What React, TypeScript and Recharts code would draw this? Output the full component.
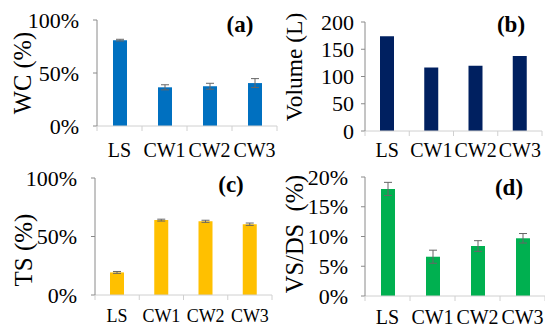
import React from 'react';
import { BarChart, Bar, XAxis, YAxis, ErrorBar } from 'recharts';

const categories = ['LS', 'CW1', 'CW2', 'CW3'];
const wcValues = [81, 36.5, 37.5, 40.5];
const wcErrors = [0.8, 2.4, 2.8, 4.2];
const volumeValues = [174, 116.5, 119.5, 137.5];
const tsValues = [19.3, 64, 63, 60.5];
const tsErrors = [0.8, 0.8, 0.9, 1.0];
const vsdsValues = [18.0, 6.6, 8.4, 9.7];
const vsdsErrors = [1.1, 1.1, 0.9, 0.8];

const pctTicks100 = [0, 50, 100];
const volumeTicks = [0, 50, 100, 150, 200];
const pctTicks20 = [0, 5, 10, 15, 20];

const build = (vals: number[], errs?: number[]) =>
  categories.map((c, i) => ({ cat: c, v: vals[i], err: errs ? errs[i] : 0 }));

const wcData = build(wcValues, wcErrors);
const volData = build(volumeValues);
const tsData = build(tsValues, tsErrors);
const vsdsData = build(vsdsValues, vsdsErrors);

const FONT = '"Liberation Serif", "Times New Roman", serif';
const W = 545;
const H = 331;
const YW = 60;
const XH = 30;

const makeXTick = (fontSize: number, baseline: number, band: number) => (props: any) => {
  const { x, y, payload, index } = props;
  return (
    <g>
      {index === 0 && (
        <line x1={x - band / 2} x2={x - band / 2} y1={y} y2={y + 5} stroke="#d0d0d0" />
      )}
      <line x1={x + band / 2} x2={x + band / 2} y1={y} y2={y + 5} stroke="#d0d0d0" />
      <text x={x} y={y + baseline} textAnchor="middle" fontSize={fontSize} fontFamily={FONT} fill="#000">
        {payload.value}
      </text>
    </g>
  );
};

const makeYTick = (fmt: (v: number) => string, fontSize: number) => (props: any) => {
  const { x, y, payload } = props;
  return (
    <text x={x} y={y} textAnchor="end" dominantBaseline="central" fontSize={fontSize} fontFamily={FONT} fill="#000">
      {fmt(payload.value)}
    </text>
  );
};

type PanelProps = {
  data: any[];
  color: string;
  plot: { top: number; left: number; right: number; bottom: number };
  ticks: number[];
  fmt: (v: number) => string;
  yTickMargin: number;
  yFont: number;
  catFont: number;
  catBaseline: number;
  hasErr: boolean;
};

function Panel(p: PanelProps) {
  const band = (p.plot.right - p.plot.left) / categories.length;
  const max = p.ticks[p.ticks.length - 1];
  const margin = {
    top: p.plot.top,
    left: p.plot.left - YW,
    right: W - p.plot.right,
    bottom: H - p.plot.bottom - XH,
  };
  return (
    <div style={{ position: 'absolute', left: 0, top: 0 }}>
      <BarChart width={W} height={H} data={p.data} margin={margin} barSize={14}>
        <XAxis
          dataKey="cat"
          height={XH}
          tickLine={false}
          tickSize={0}
          tickMargin={0}
          interval={0}
          axisLine={{ stroke: '#d0d0d0' }}
          tick={makeXTick(p.catFont, p.catBaseline, band)}
        />
        <YAxis
          width={YW}
          domain={[0, max]}
          ticks={p.ticks}
          interval={0}
          tickSize={4}
          tickMargin={p.yTickMargin}
          axisLine={{ stroke: '#8a8a8a' }}
          tickLine={{ stroke: '#8a8a8a' }}
          tick={makeYTick(p.fmt, p.yFont)}
        />
        <Bar dataKey="v" fill={p.color} isAnimationActive={false}>
          {p.hasErr && <ErrorBar dataKey="err" width={4} stroke="#666" strokeWidth={1} />}
        </Bar>
      </BarChart>
    </div>
  );
}

const pct = (v: number) => `${v}%`;
const num = (v: number) => `${v}`;

function Titles() {
  const rot = (x: number, y: number, t: string, fs: number) => (
    <text
      transform={`translate(${x},${y}) rotate(-90)`}
      textAnchor="middle"
      dominantBaseline="central"
      fontSize={fs}
      fontFamily={FONT}
      fill="#000"
    >
      {t}
    </text>
  );
  const letter = (x: number, y: number, t: string) => (
    <text x={x} y={y} textAnchor="middle" dominantBaseline="central" fontSize={23} fontWeight="bold" fontFamily={FONT} fill="#000">
      {t}
    </text>
  );
  return (
    <svg width={W} height={H} style={{ position: 'absolute', left: 0, top: 0 }}>
      {rot(22, 73, 'WC (%)', 24.5)}
      {rot(294, 67, 'Volume (L)', 23.5)}
      {rot(23, 250, 'TS (%)', 25)}
      {rot(294, 234, 'VS/DS\u00a0 (%)', 24.5)}
      {letter(240, 24, '(a)')}
      {letter(511, 24, '(b)')}
      {letter(231, 184, '(c)')}
      {letter(509, 187, '(d)')}
    </svg>
  );
}

export default function App() {
  return (
    <div style={{ position: 'absolute', left: 0, top: 0, width: W, height: H, background: '#fff' }}>
      <Panel
        data={wcData}
        color="#0070C0"
        plot={{ top: 20, left: 97, right: 277, bottom: 126 }}
        ticks={pctTicks100}
        fmt={pct}
        yTickMargin={14}
        yFont={22}
        catFont={20}
        catBaseline={31}
        hasErr={true}
      />
      <Panel
        data={volData}
        color="#002060"
        plot={{ top: 22, left: 365, right: 542, bottom: 131 }}
        ticks={volumeTicks}
        fmt={num}
        yTickMargin={7}
        yFont={22}
        catFont={20}
        catBaseline={26}
        hasErr={false}
      />
      <Panel
        data={tsData}
        color="#FFC000"
        plot={{ top: 178, left: 95, right: 272, bottom: 295 }}
        ticks={pctTicks100}
        fmt={pct}
        yTickMargin={14}
        yFont={22}
        catFont={18}
        catBaseline={27}
        hasErr={true}
      />
      <Panel
        data={vsdsData}
        color="#00B050"
        plot={{ top: 177, left: 365, right: 545, bottom: 296 }}
        ticks={pctTicks20}
        fmt={pct}
        yTickMargin={13}
        yFont={22}
        catFont={20}
        catBaseline={28}
        hasErr={true}
      />
      <Titles />
    </div>
  );
}
